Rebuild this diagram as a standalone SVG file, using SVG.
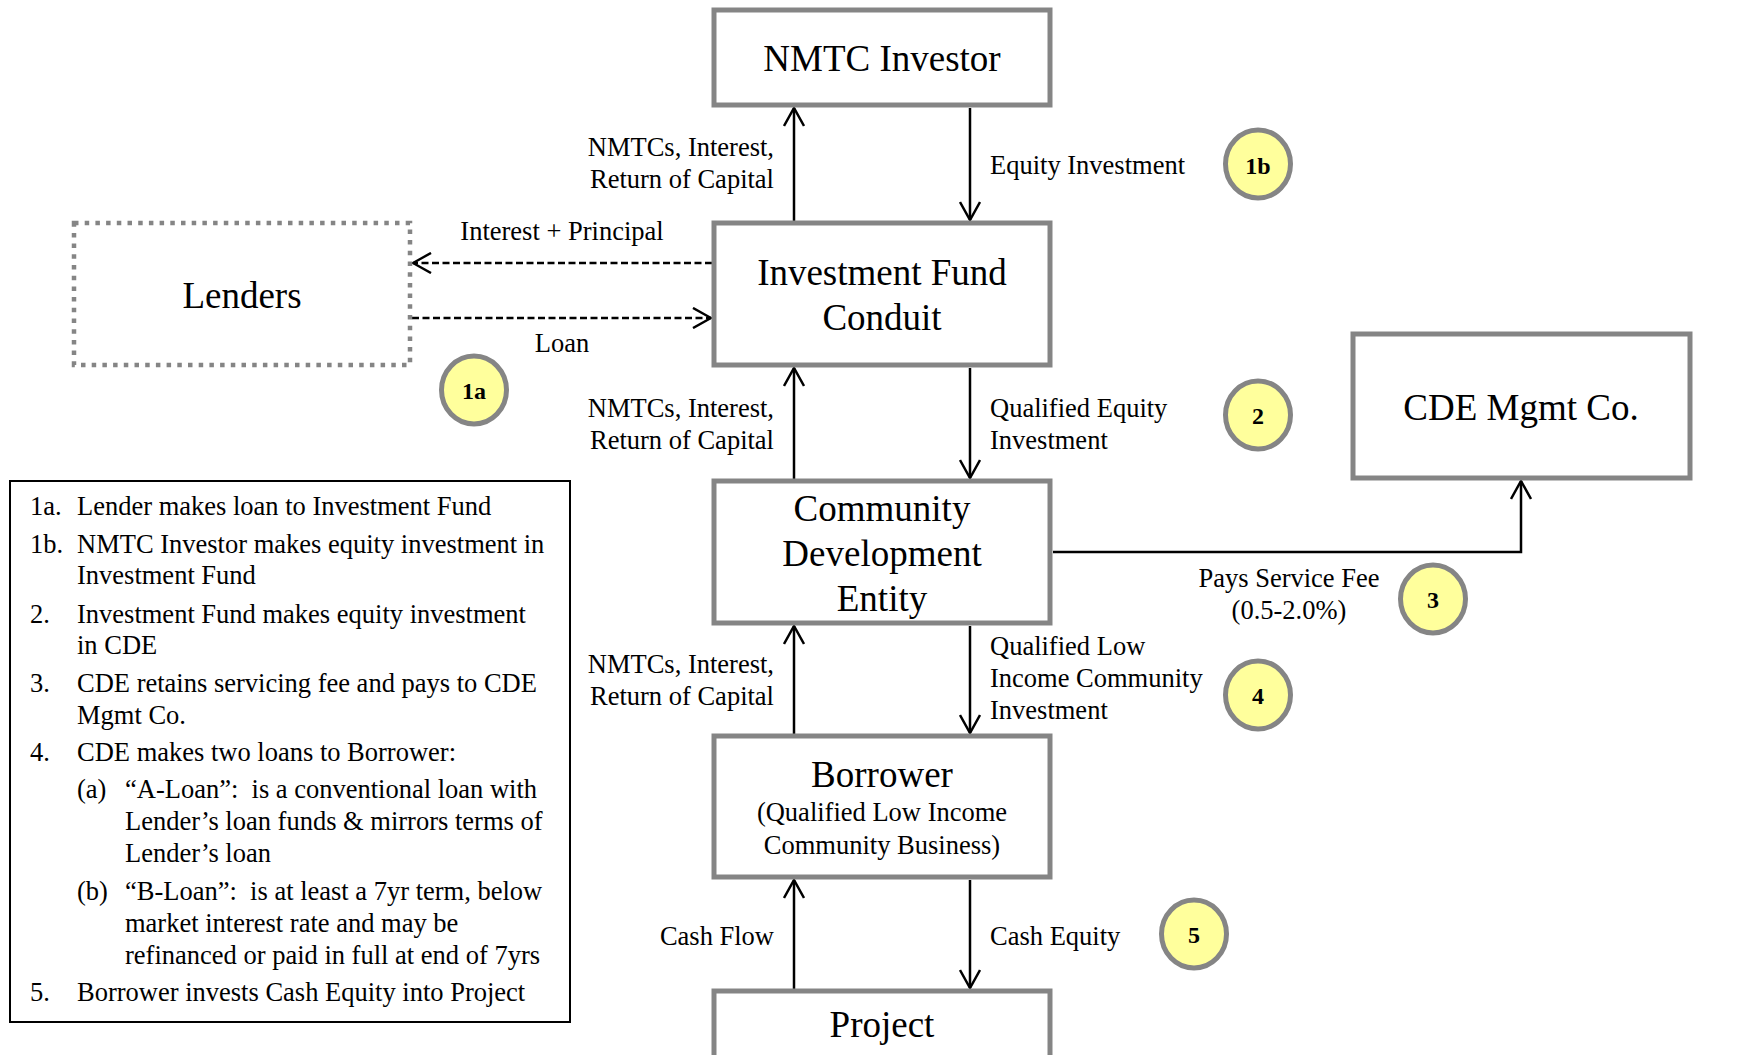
<svg xmlns="http://www.w3.org/2000/svg" width="1738" height="1055" viewBox="0 0 1738 1055">
<defs>
<style>
.box{fill:#fff;stroke:#858585;stroke-width:5}
.dot{fill:#fff;stroke:#858585;stroke-width:4.5;stroke-dasharray:4.5 6.2}
.leg{fill:#fff;stroke:#000;stroke-width:2}
.t{font-family:"Liberation Serif","Times New Roman",serif;fill:#000}
.big{font-size:37px;text-anchor:middle}
.lab{font-size:26.5px}
.mid{text-anchor:middle}
.end{text-anchor:end}
.ln{fill:none;stroke:#000;stroke-width:2.5}
.dash{fill:none;stroke:#000;stroke-width:2.5;stroke-dasharray:7 3.5}
.circ{fill:#ffff9c;stroke:#858585;stroke-width:5}
.num{font-family:"Liberation Serif","Times New Roman",serif;font-weight:bold;font-size:24px;text-anchor:middle}
</style>
<marker id="ah" markerUnits="userSpaceOnUse" viewBox="0 0 20 22" markerWidth="20" markerHeight="22" refX="19" refY="11" orient="auto">
<path d="M1,1 L19,11 L1,21" fill="none" stroke="#000" stroke-width="2.5"/>
</marker>
</defs>
<rect width="1738" height="1055" fill="#fff"/>

<g id="connectors">
<line class="ln" x1="794" y1="221" x2="794" y2="108" marker-end="url(#ah)"/>
<line class="ln" x1="970" y1="108" x2="970" y2="220" marker-end="url(#ah)"/>
<line class="ln" x1="794" y1="479" x2="794" y2="368" marker-end="url(#ah)"/>
<line class="ln" x1="970" y1="368" x2="970" y2="478" marker-end="url(#ah)"/>
<line class="ln" x1="794" y1="734" x2="794" y2="626" marker-end="url(#ah)"/>
<line class="ln" x1="970" y1="626" x2="970" y2="733" marker-end="url(#ah)"/>
<line class="ln" x1="794" y1="989" x2="794" y2="880" marker-end="url(#ah)"/>
<line class="ln" x1="970" y1="880" x2="970" y2="988" marker-end="url(#ah)"/>
<line class="dash" x1="712" y1="263" x2="413" y2="263" marker-end="url(#ah)"/>
<line class="dash" x1="412" y1="318" x2="711" y2="318" marker-end="url(#ah)"/>
<path class="ln" d="M1053,552 H1521 V481" marker-end="url(#ah)"/>
<text class="t lab end" x="774" y="156">NMTCs, Interest,</text>
<text class="t lab end" x="774" y="188">Return of Capital</text>
<text class="t lab" x="990" y="174">Equity Investment</text>
<text class="t lab mid" x="562" y="240">Interest + Principal</text>
<text class="t lab mid" x="562" y="352">Loan</text>
<text class="t lab end" x="774" y="417">NMTCs, Interest,</text>
<text class="t lab end" x="774" y="449">Return of Capital</text>
<text class="t lab" x="990" y="417">Qualified Equity</text>
<text class="t lab" x="990" y="449">Investment</text>
<text class="t lab mid" x="1289" y="587">Pays Service Fee</text>
<text class="t lab mid" x="1289" y="619">(0.5-2.0%)</text>
<text class="t lab end" x="774" y="673">NMTCs, Interest,</text>
<text class="t lab end" x="774" y="705">Return of Capital</text>
<text class="t lab" x="990" y="655">Qualified Low</text>
<text class="t lab" x="990" y="687">Income Community</text>
<text class="t lab" x="990" y="719">Investment</text>
<text class="t lab end" x="774" y="945">Cash Flow</text>
<text class="t lab" x="990" y="945">Cash Equity</text>
</g>

<g id="nmtc-investor">
<rect class="box" x="714" y="10" width="336" height="95"/>
<text class="t big" x="882" y="71">NMTC Investor</text>
</g>
<g id="investment-fund">
<rect class="box" x="714" y="223" width="336" height="142"/>
<text class="t big" x="882" y="285">Investment Fund</text>
<text class="t big" x="882" y="330">Conduit</text>
</g>
<g id="lenders">
<rect class="dot" x="74" y="223" width="336" height="142"/>
<text class="t big" x="242" y="308">Lenders</text>
</g>
<g id="cde">
<rect class="box" x="714" y="481" width="336" height="142"/>
<text class="t big" x="882" y="521">Community</text>
<text class="t big" x="882" y="566">Development</text>
<text class="t big" x="882" y="611">Entity</text>
</g>
<g id="cde-mgmt">
<rect class="box" x="1353" y="334" width="337" height="144"/>
<text class="t big" x="1521" y="420">CDE Mgmt Co.</text>
</g>
<g id="borrower">
<rect class="box" x="714" y="736" width="336" height="141"/>
<text class="t big" x="882" y="787">Borrower</text>
<text class="t lab mid" x="882" y="821">(Qualified Low Income</text>
<text class="t lab mid" x="882" y="854">Community Business)</text>
</g>
<g id="project">
<rect class="box" x="714" y="991" width="336" height="90"/>
<text class="t big" x="882" y="1037">Project</text>
</g>

<g id="step-1a"><ellipse class="circ" cx="474" cy="390" rx="32.5" ry="34"/><text class="num" x="474" y="399">1a</text></g>
<g id="step-1b"><ellipse class="circ" cx="1258" cy="164" rx="32.5" ry="34"/><text class="num" x="1258" y="174">1b</text></g>
<g id="step-2"><ellipse class="circ" cx="1258" cy="415" rx="32.5" ry="34"/><text class="num" x="1258" y="424">2</text></g>
<g id="step-3"><ellipse class="circ" cx="1433" cy="599" rx="32.5" ry="34"/><text class="num" x="1433" y="608">3</text></g>
<g id="step-4"><ellipse class="circ" cx="1258" cy="695" rx="32.5" ry="34"/><text class="num" x="1258" y="704">4</text></g>
<g id="step-5"><ellipse class="circ" cx="1194" cy="934" rx="32.5" ry="34"/><text class="num" x="1194" y="943">5</text></g>

<g id="legend">
<rect class="leg" x="10" y="481" width="560" height="541"/>
<g class="t lab">
<text x="30" y="515">1a.</text><text x="77" y="515">Lender makes loan to Investment Fund</text>
<text x="30" y="553">1b.</text><text x="77" y="553">NMTC Investor makes equity investment in</text>
<text x="77" y="584">Investment Fund</text>
<text x="30" y="623">2.</text><text x="77" y="623">Investment Fund makes equity investment</text>
<text x="77" y="654">in CDE</text>
<text x="30" y="692">3.</text><text x="77" y="692">CDE retains servicing fee and pays to CDE</text>
<text x="77" y="724">Mgmt Co.</text>
<text x="30" y="761">4.</text><text x="77" y="761">CDE makes two loans to Borrower:</text>
<text x="77" y="798">(a)</text><text x="125" y="798">“A-Loan”:&#160; is a conventional loan with</text>
<text x="125" y="830">Lender’s loan funds &amp; mirrors terms of</text>
<text x="125" y="862">Lender’s loan</text>
<text x="77" y="900">(b)</text><text x="125" y="900">“B-Loan”:&#160; is at least a 7yr term, below</text>
<text x="125" y="932">market interest rate and may be</text>
<text x="125" y="964">refinanced or paid in full at end of 7yrs</text>
<text x="30" y="1001">5.</text><text x="77" y="1001">Borrower invests Cash Equity into Project</text>
</g>
</g>
</svg>
